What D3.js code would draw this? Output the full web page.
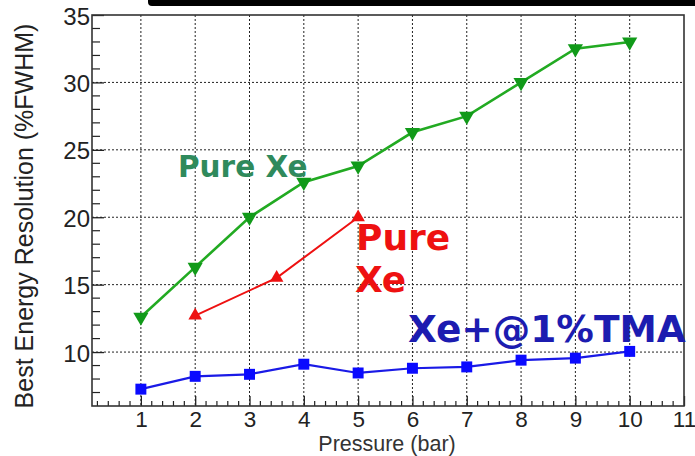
<!DOCTYPE html>
<html>
<head>
<meta charset="utf-8">
<script src="https://cdn.jsdelivr.net/npm/d3@7"></script>
<style>
  html, body { margin: 0; padding: 0; background: #fff; }
  svg { display: block; }
</style>
</head>
<body>
<svg id="chart" width="695" height="456"></svg>
<script>
// Pressure scan of the best energy resolution
const pressure = [1, 2, 3, 4, 5, 6, 7, 8, 9, 10];
const pureXeScan = [12.6, 16.3, 20.0, 22.6, 23.8, 26.3, 27.5, 30.0, 32.5, 33.0];
const pureXeRefPressure = [2, 3.5, 5];
const pureXeRef = [12.7, 15.5, 20.0];
const xeTma = [7.25, 8.2, 8.35, 9.1, 8.45, 8.8, 8.9, 9.4, 9.55, 10.05];

const xTickValues = [1, 2, 3, 4, 5, 6, 7, 8, 9, 10, 11];
const yTickValues = [10, 15, 20, 25, 30, 35];

const svg = d3.select("#chart");
const frame = { left: 92, right: 684, top: 15, bottom: 406 };

const x = d3.scaleLinear().domain([0.1, 11]).range([frame.left, frame.right]);
const y = d3.scaleLinear().domain([6, 35]).range([frame.bottom, frame.top]);

// dark strip across the top edge
svg.append("rect")
  .attr("x", 148).attr("y", -6).attr("width", 560).attr("height", 12)
  .attr("rx", 4).attr("fill", "#000");

// dotted grid
const grid = svg.append("g").attr("stroke", "#222").attr("stroke-width", 1)
  .attr("stroke-dasharray", "2,2");
grid.selectAll("line.gx").data(xTickValues.filter(v => v < 11)).join("line")
  .attr("x1", d => x(d)).attr("x2", d => x(d))
  .attr("y1", frame.top).attr("y2", frame.bottom);
grid.selectAll("line.gy").data(yTickValues.filter(v => v < 35)).join("line")
  .attr("x1", frame.left).attr("x2", frame.right)
  .attr("y1", d => y(d)).attr("y2", d => y(d));

// axes with inward ticks
const xMinor = d3.range(0.2, 11, 0.2).filter(v => Math.abs(v - Math.round(v)) > 1e-6);
const yMinor = d3.range(7, 35, 1).filter(v => v % 5 !== 0);

const xAxis = d3.axisBottom(x).tickValues(xTickValues).tickSize(-10).tickPadding(5)
  .tickFormat(d3.format("d"));
const gx = svg.append("g").attr("transform", `translate(0,${frame.bottom})`).call(xAxis);
gx.select(".domain").remove();
gx.selectAll(".tick line").attr("stroke", "#222").attr("stroke-width", 1.3);
gx.selectAll("text").attr("font-family", "Liberation Sans, Arial, sans-serif")
  .attr("font-size", 22.5).attr("fill", "#222");

svg.append("g").selectAll("line").data(xMinor).join("line")
  .attr("x1", d => x(d)).attr("x2", d => x(d))
  .attr("y1", frame.bottom).attr("y2", frame.bottom - 5)
  .attr("stroke", "#222").attr("stroke-width", 1.2);

const yAxis = d3.axisLeft(y).tickValues(yTickValues).tickSize(-12).tickPadding(2)
  .tickFormat(d3.format("d"));
const gy = svg.append("g").attr("transform", `translate(${frame.left},0)`).call(yAxis);
gy.select(".domain").remove();
gy.selectAll(".tick line").attr("stroke", "#222").attr("stroke-width", 1.3);
gy.selectAll("text").attr("font-family", "Liberation Sans, Arial, sans-serif")
  .attr("font-size", 24).attr("fill", "#222").attr("dy", "0.38em");

svg.append("g").selectAll("line").data(yMinor).join("line")
  .attr("x1", frame.left).attr("x2", frame.left + 8)
  .attr("y1", d => y(d)).attr("y2", d => y(d))
  .attr("stroke", "#222").attr("stroke-width", 1.2);

// frame
svg.append("rect")
  .attr("x", frame.left).attr("y", frame.top)
  .attr("width", frame.right - frame.left).attr("height", frame.bottom - frame.top)
  .attr("fill", "none").attr("stroke", "#333").attr("stroke-width", 1.6);

// axis titles
svg.append("text")
  .attr("x", 387).attr("y", 451).attr("text-anchor", "middle")
  .attr("font-family", "Liberation Sans, Arial, sans-serif").attr("font-size", 21.5)
  .attr("fill", "#333").text("Pressure (bar)");

svg.append("text")
  .attr("transform", "translate(33,216) rotate(-90)")
  .attr("text-anchor", "middle")
  .attr("font-family", "Liberation Sans, Arial, sans-serif").attr("font-size", 25)
  .attr("fill", "#222").text("Best Energy Resolution (%FWHM)");

// series
const line = d3.line().x(d => x(d[0])).y(d => y(d[1]));

function drawSeries(xs, ys, lineColor, markColor, width, symbol, size, rotate) {
  const pts = xs.map((v, i) => [v, ys[i]]);
  svg.append("path").datum(pts).attr("d", line)
    .attr("fill", "none").attr("stroke", lineColor).attr("stroke-width", width);
  svg.append("g").selectAll("path").data(pts).join("path")
    .attr("d", d3.symbol().type(symbol).size(size))
    .attr("transform", d => `translate(${x(d[0])},${y(d[1])}) rotate(${rotate})`)
    .attr("fill", markColor);
}

drawSeries(pressure, pureXeScan, "#22aa22", "#119a19", 2.6, d3.symbolTriangle, 100, 180);
drawSeries(pureXeRefPressure, pureXeRef, "#ee1111", "#ee1111", 2, d3.symbolTriangle, 80, 0);
drawSeries(pressure, xeTma, "#1a1ae6", "#0a0aff", 2.2, d3.symbolSquare, 120, 0);

// series labels
const labelFont = "DejaVu Sans, Verdana, sans-serif";
svg.append("text").attr("x", 178).attr("y", 177)
  .attr("font-family", labelFont).attr("font-weight", "bold").attr("font-size", 29.5)
  .attr("fill", "#2f8a5c").text("Pure Xe");
svg.append("text").attr("x", 356).attr("y", 250)
  .attr("font-family", labelFont).attr("font-weight", "bold").attr("font-size", 36)
  .attr("fill", "#ee1111").text("Pure");
svg.append("text").attr("x", 355).attr("y", 292)
  .attr("font-family", labelFont).attr("font-weight", "bold").attr("font-size", 36)
  .attr("fill", "#ee1111").text("Xe");
svg.append("text").attr("x", 408).attr("y", 342)
  .attr("font-family", labelFont).attr("font-weight", "bold").attr("font-size", 37.5)
  .attr("fill", "#1c1cb0").text("Xe+@1%TMA");
</script>
</body>
</html>
